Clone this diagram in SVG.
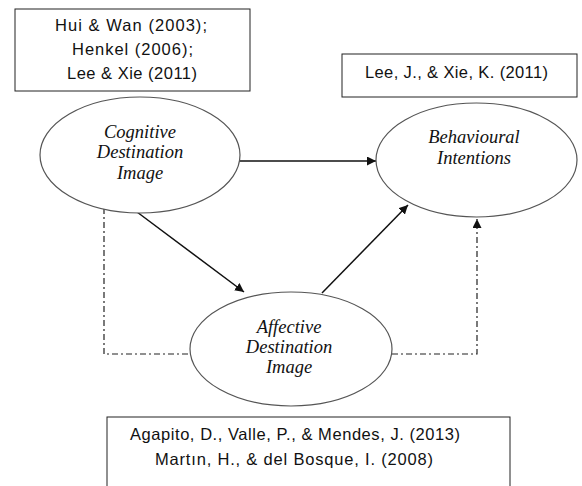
<svg xmlns="http://www.w3.org/2000/svg" width="582" height="486" viewBox="0 0 582 486">
<defs>
<style>
.box{fill:#fff;stroke:#222;stroke-width:1}
.ell{fill:#fff;stroke:#555;stroke-width:1.2}
.ref{font-family:"Liberation Sans",Arial,sans-serif;font-size:16.5px;fill:#111;text-anchor:middle}
.lab{font-family:"Liberation Serif","Times New Roman",serif;font-style:italic;font-size:18.5px;fill:#111;text-anchor:middle}
.arr{fill:none;stroke:#111;stroke-width:1.5}
.dd{fill:none;stroke:#222;stroke-width:1.2;stroke-dasharray:6 3 2 3}
</style>
<marker id="ah" viewBox="0 0 10 10" refX="10" refY="5" markerWidth="9" markerHeight="9" markerUnits="userSpaceOnUse" orient="auto">
<path d="M0,0 L10,5 L0,10 z" fill="#111"/>
</marker>
</defs>
<rect width="582" height="486" fill="#fff"/>
<g id="connectors">
<line class="arr" x1="240" y1="161" x2="376" y2="161" marker-end="url(#ah)"/>
<line class="arr" x1="137" y1="212" x2="244" y2="292" marker-end="url(#ah)"/>
<line class="arr" x1="322" y1="293" x2="408" y2="205" marker-end="url(#ah)"/>
<polyline class="dd" points="104,208 104,354 190,354"/>
<polyline class="dd" points="392,354 477,354 477,219" marker-end="url(#ah)"/>
</g>
<g id="ref-cognitive">
<rect class="box" x="15" y="9" width="235" height="82"/>
<text class="ref" x="131" y="31" textLength="152" lengthAdjust="spacing">Hui &amp; Wan (2003);</text>
<text class="ref" x="132.5" y="55" textLength="121" lengthAdjust="spacing">Henkel (2006);</text>
<text class="ref" x="132" y="79" textLength="130" lengthAdjust="spacing">Lee &amp; Xie (2011)</text>
</g>
<g id="ref-behavioural">
<rect class="box" x="342" y="54" width="235" height="43"/>
<text class="ref" x="456.5" y="78" textLength="183" lengthAdjust="spacing">Lee, J., &amp; Xie, K. (2011)</text>
</g>
<g id="ref-affective">
<rect class="box" x="107" y="417" width="403" height="80"/>
<text class="ref" x="295" y="440" textLength="330" lengthAdjust="spacing">Agapito, D., Valle, P., &amp; Mendes, J. (2013)</text>
<text class="ref" x="294" y="465" textLength="278" lengthAdjust="spacing">Martın, H., &amp; del Bosque, I. (2008)</text>
</g>
<g id="cognitive">
<ellipse class="ell" cx="140" cy="155" rx="100" ry="58"/>
<text class="lab" x="140" y="138">Cognitive</text>
<text class="lab" x="140" y="158">Destination</text>
<text class="lab" x="140" y="179">Image</text>
</g>
<g id="behavioural">
<ellipse class="ell" cx="476.5" cy="160" rx="100.5" ry="57"/>
<text class="lab" x="474" y="143">Behavioural</text>
<text class="lab" x="474" y="164">Intentions</text>
</g>
<g id="affective">
<ellipse class="ell" cx="291" cy="349" rx="101" ry="57"/>
<text class="lab" x="289" y="333">Affective</text>
<text class="lab" x="289" y="353">Destination</text>
<text class="lab" x="289" y="373">Image</text>
</g>
</svg>
